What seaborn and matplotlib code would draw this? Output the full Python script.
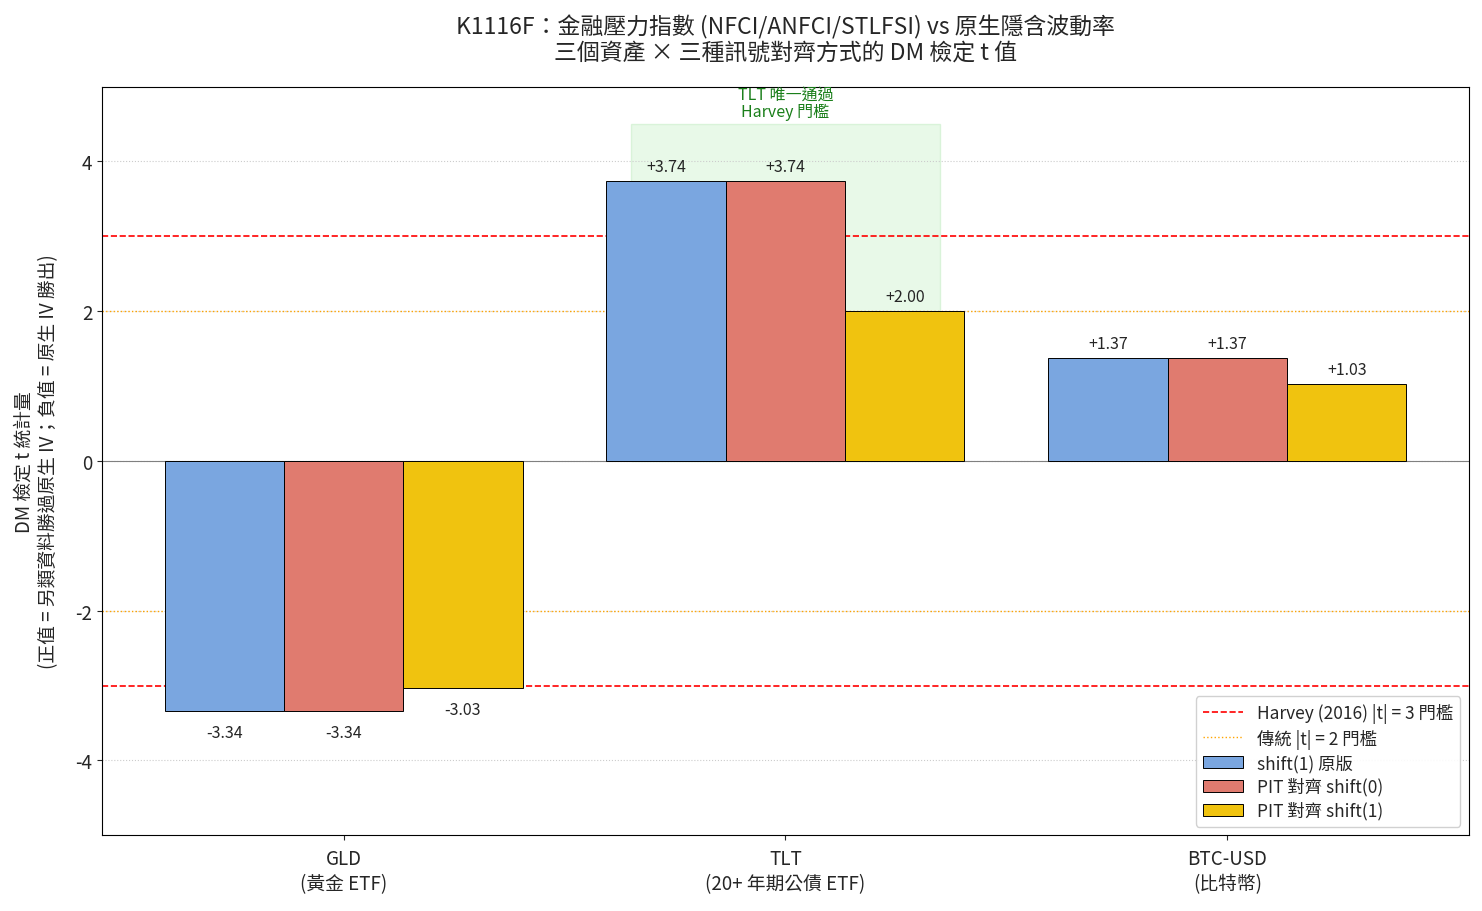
import matplotlib.pyplot as plt
import pandas as pd
import seaborn as sns
from matplotlib.lines import Line2D
from matplotlib.patches import Patch

assets = ["GLD\n(黃金 ETF)", "TLT\n(20+ 年期公債 ETF)", "BTC-USD\n(比特幣)"]
methods = ["shift(1) 原版", "PIT 對齊 shift(0)", "PIT 對齊 shift(1)"]
t_shift1 = [-3.34, 3.74, 1.37]
t_pit0 = [-3.34, 3.74, 1.37]
t_pit1 = [-3.03, 2.00, 1.03]
method_colors = ["#7aa6e0", "#e07b6f", "#f0c30f"]


def build_frame():
    rows = []
    for method, values in zip(methods, [t_shift1, t_pit0, t_pit1]):
        for asset, v in zip(assets, values):
            rows.append({"asset": asset, "method": method, "t": v})
    return pd.DataFrame(rows)


def main():
    sns.set_style("ticks")
    plt.rcParams["font.family"] = ["Noto Sans CJK TC", "DejaVu Sans"]
    plt.rcParams["axes.unicode_minus"] = False

    df = build_frame()
    fig, ax = plt.subplots(figsize=(14.82, 9.12), dpi=100)

    # TLT highlight box
    ax.axvspan(0.65, 1.35, ymin=0.5, ymax=0.95, facecolor="#d9f5d9", edgecolor="#c8eec8",
               alpha=0.6, zorder=0)
    ax.text(1, 4.55, "TLT 唯一通過\nHarvey 門檻", ha="center", va="bottom", color="#1a7f1a",
            fontsize=11.5, linespacing=1.0)

    sns.barplot(data=df, x="asset", y="t", hue="method", palette=method_colors,
                hue_order=methods, order=assets, width=0.81, gap=0, edgecolor="black",
                linewidth=0.7, saturation=1, legend=False, ax=ax, zorder=2)

    for container in ax.containers:
        for bar in container:
            h = bar.get_height()
            x = bar.get_x() + bar.get_width() / 2
            if h >= 0:
                ax.text(x, h + 0.08, f"{h:+.2f}", ha="center", va="bottom", fontsize=11.5)
            else:
                ax.text(x, h - 0.18, f"{h:.2f}", ha="center", va="top", fontsize=11.5)

    ax.axhline(0, color="gray", linewidth=0.8, zorder=1)
    for y in (3, -3):
        ax.axhline(y, color="red", linestyle="--", linewidth=1.2, zorder=1)
    for y in (2, -2):
        ax.axhline(y, color="orange", linestyle=":", linewidth=1.0, zorder=1)
    ax.yaxis.grid(True, linestyle=":", color="#cccccc", linewidth=0.8)
    ax.set_axisbelow(True)

    ax.set_xlim(-0.546, 2.546)
    ax.set_ylim(-5, 5)
    ax.set_yticks([-4, -2, 0, 2, 4])
    ax.set_xlabel("")
    ax.set_ylabel("DM 檢定 t 統計量\n(正值 = 另類資料勝過原生 IV；負值 = 原生 IV 勝出)",
                  fontsize=13.5, labelpad=12)
    ax.tick_params(axis="both", labelsize=13.5)
    ax.tick_params(axis="x", pad=6)
    ax.set_title("K1116F：金融壓力指數 (NFCI/ANFCI/STLFSI) vs 原生隱含波動率\n"
                 "三個資產 × 三種訊號對齊方式的 DM 檢定 t 值", fontsize=16.5, pad=20,
                 linespacing=1.15)

    handles = [
        Line2D([0], [0], color="red", linestyle="--", linewidth=1.2),
        Line2D([0], [0], color="orange", linestyle=":", linewidth=1.0),
    ] + [Patch(facecolor=c, edgecolor="black", linewidth=0.7) for c in method_colors]
    labels = ["Harvey (2016) |t| = 3 門檻", "傳統 |t| = 2 門檻"] + methods
    ax.legend(handles, labels, loc="lower right", fontsize=12.5, framealpha=0.9,
              labelspacing=0.3, handlelength=2.3)

    for spine in ax.spines.values():
        spine.set_visible(True)
        spine.set_color("black")

    fig.subplots_adjust(left=0.069, right=0.991, top=0.904, bottom=0.083)
    fig.savefig("out.png", dpi=100)
    plt.close()


if __name__ == "__main__":
    main()
